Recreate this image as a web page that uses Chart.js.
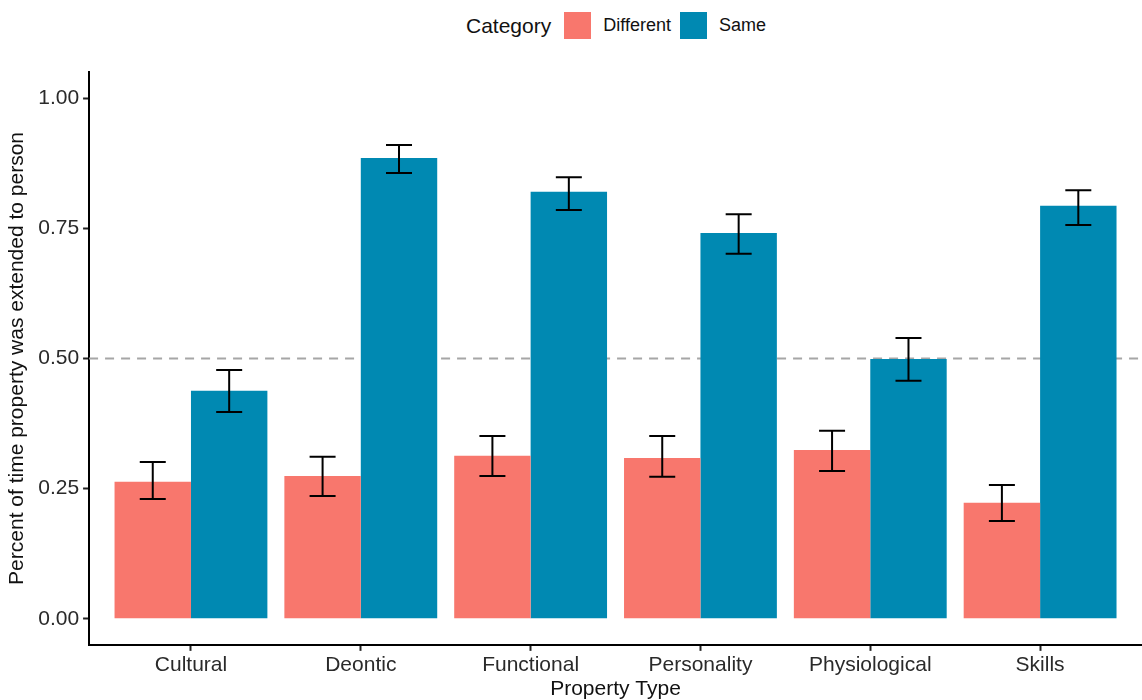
<!DOCTYPE html>
<html>
<head>
<meta charset="utf-8">
<script src="https://cdn.jsdelivr.net/npm/chart.js@4"></script>
<style>
    html, body { margin: 0; padding: 0; background: #fff; }
    #wrap { position: relative; width: 1142px; height: 700px; font-family: Arial, "Liberation Sans", sans-serif; }
    #legend { position: absolute; top: 12px; left: 466px; display: flex; align-items: center; color: #111; }
    #legend .title { font-size: 21px; margin-right: 13px; }
    #legend .box { width: 27px; height: 27px; display: inline-block; margin-right: 12px; }
    #legend .lab { font-size: 18px; margin-right: 9px; }
    canvas { position: absolute; left: 0; top: 0; }
</style>
</head>
<body>
<div id="wrap">
    <div id="legend">
        <span class="title">Category</span>
        <span class="box" style="background:#F8776D"></span><span class="lab">Different</span>
        <span class="box" style="background:#0089B2"></span><span class="lab">Same</span>
    </div>
    <canvas id="chart" width="1142" height="700"></canvas>
</div>
<script>
const categories = ['Cultural', 'Deontic', 'Functional', 'Personality', 'Physiological', 'Skills'];
const differentVals = [0.263, 0.274, 0.313, 0.309, 0.324, 0.223];
const differentLow  = [0.230, 0.236, 0.274, 0.273, 0.284, 0.188];
const differentHigh = [0.301, 0.311, 0.351, 0.351, 0.361, 0.257];
const sameVals = [0.438, 0.885, 0.820, 0.741, 0.499, 0.793];
const sameLow  = [0.397, 0.856, 0.785, 0.701, 0.457, 0.756];
const sameHigh = [0.478, 0.910, 0.848, 0.777, 0.539, 0.823];
const yTicks = [0, 0.25, 0.5, 0.75, 1.0];
const refLine = 0.5;

const toPoints = vals => vals.map((v, i) => ({ x: i, y: v }));

// dashed reference line, drawn under the bars
const refLinePlugin = {
    id: 'refLine',
    beforeDatasetsDraw(chart) {
        const { ctx, chartArea, scales } = chart;
        const y = scales.y.getPixelForValue(refLine);
        ctx.save();
        ctx.strokeStyle = '#a6a6a6';
        ctx.lineWidth = 2;
        ctx.setLineDash([9, 7]);
        ctx.beginPath();
        ctx.moveTo(chartArea.left, y);
        ctx.lineTo(chartArea.right, y);
        ctx.stroke();
        ctx.restore();
    }
};

// error bars from the low/high arrays
const errorBarPlugin = {
    id: 'errorBars',
    afterDatasetsDraw(chart) {
        const { ctx, scales } = chart;
        const ranges = [[differentLow, differentHigh], [sameLow, sameHigh]];
        ctx.save();
        ctx.strokeStyle = '#000';
        ctx.lineWidth = 2;
        chart.data.datasets.forEach((ds, di) => {
            const meta = chart.getDatasetMeta(di);
            meta.data.forEach((bar, i) => {
                const x = bar.x;
                const yl = scales.y.getPixelForValue(ranges[di][0][i]);
                const yh = scales.y.getPixelForValue(ranges[di][1][i]);
                const half = 13;
                ctx.beginPath();
                ctx.moveTo(x, yl); ctx.lineTo(x, yh);
                ctx.moveTo(x - half, yl); ctx.lineTo(x + half, yl);
                ctx.moveTo(x - half, yh); ctx.lineTo(x + half, yh);
                ctx.stroke();
            });
        });
        ctx.restore();
    }
};

Chart.defaults.font.family = 'Arial, "Liberation Sans", sans-serif';
Chart.defaults.color = '#111';

new Chart(document.getElementById('chart').getContext('2d'), {
    type: 'bar',
    data: {
        datasets: [
            {
                label: 'Different',
                data: toPoints(differentVals),
                backgroundColor: '#F8776D',
                categoryPercentage: 0.9,
                barPercentage: 1.0,
            },
            {
                label: 'Same',
                data: toPoints(sameVals),
                backgroundColor: '#0089B2',
                categoryPercentage: 0.9,
                barPercentage: 1.0,
            }
        ]
    },
    options: {
        responsive: false,
        animation: false,
        layout: { padding: { top: 72, right: 0, left: 5, bottom: 0 } },
        plugins: {
            legend: { display: false },
            tooltip: { enabled: false }
        },
        scales: {
            x: {
                type: 'linear',
                offset: false,
                min: -0.6,
                max: categories.length - 0.4,
                afterBuildTicks: axis => { axis.ticks = categories.map((_, i) => ({ value: i })); },
                grid: {
                    display: true,
                    offset: false,
                    drawOnChartArea: false,
                    drawTicks: true,
                    tickLength: 6,
                    tickWidth: 2,
                    tickColor: '#222',
                },
                border: { display: true, color: '#000', width: 2 },
                ticks: {
                    font: { size: 21, lineHeight: 1.15 },
                    color: '#2a2a2a',
                    padding: 2,
                    autoSkip: false,
                    maxRotation: 0,
                    callback: v => categories[v]
                },
                title: {
                    display: true,
                    text: 'Property Type',
                    font: { size: 21, lineHeight: 1.0 },
                    color: '#111',
                    padding: { top: 0, bottom: 0 }
                }
            },
            y: {
                min: -0.05,
                max: 1.05,
                afterBuildTicks: axis => { axis.ticks = yTicks.map(v => ({ value: v })); },
                grid: {
                    display: true,
                    drawOnChartArea: false,
                    drawTicks: true,
                    tickLength: 6,
                    tickWidth: 2,
                    tickColor: '#222',
                },
                border: { display: true, color: '#000', width: 2 },
                ticks: {
                    font: { size: 21 },
                    color: '#2a2a2a',
                    padding: 4,
                    callback: v => v.toFixed(2)
                },
                title: {
                    display: true,
                    text: 'Percent of time property was extended to person',
                    font: { size: 21 },
                    color: '#111',
                    padding: { top: 0, bottom: 4 }
                }
            }
        }
    },
    plugins: [refLinePlugin, errorBarPlugin]
});
</script>
</body>
</html>
